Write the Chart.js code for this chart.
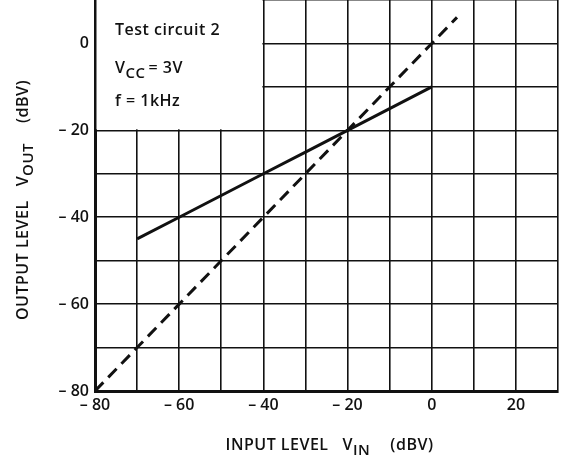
<!DOCTYPE html>
<html>
<head>
<meta charset="utf-8">
<script src="https://cdn.jsdelivr.net/npm/chart.js@4"></script>
<style>
  html, body { margin: 0; padding: 0; background: #fff; }
  #wrap { width: 561px; height: 457px; position: relative; }
</style>
</head>
<body>
<div id="wrap"><canvas id="levelChart"></canvas></div>
<script>
// output vs input level
const solidIn = [-70, -60, -50, -40, -30, -20, -10, 0];
const solidOut = [-45, -40, -35, -30, -25, -20, -15, -10];
const dashIn = [-80, -60, -40, -20, 0, 6];
const dashOut = [-80, -60, -40, -20, 0, 6];

const xTickLabels = { '-80': '– 80', '-60': '– 60', '-40': '– 40', '-20': '– 20', '0': '0', '20': '20' };
const yTickLabels = { '-80': '– 80', '-60': '– 60', '-40': '– 40', '-20': '– 20', '0': '0' };

const noteLines = [
    [{ t: 'Test circuit 2' }],
    [{ t: 'V' }, { t: 'CC', sub: true }, { t: '= 3V', gap: 3 }],
    [{ t: 'f = 1kHz' }]
];
const xTitle = [{ t: 'INPUT LEVEL' }, { t: 'V', gap: 14 }, { t: 'IN', sub: true }, { t: '(dBV)', gap: 20 }];
const yTitle = [{ t: 'OUTPUT LEVEL' }, { t: 'V', gap: 14 }, { t: 'OUT', sub: true }, { t: '(dBV)', gap: 20 }];

const FONT = '"Open Sans", "DejaVu Sans", sans-serif';
const INK = '#111';

function setFont(ctx, size, sub) {
    ctx.font = '600 ' + (sub ? size - 1 : size) + 'px ' + FONT;
    ctx.letterSpacing = '0.5px';
}

function partsWidth(ctx, parts, size) {
    let w = 0;
    parts.forEach(p => {
        setFont(ctx, size, p.sub);
        w += (p.gap || 0) + ctx.measureText(p.t).width;
    });
    return w;
}

function drawParts(ctx, parts, x, y, size) {
    parts.forEach(p => {
        setFont(ctx, size, p.sub);
        x += p.gap || 0;
        ctx.fillText(p.t, x, p.sub ? y + 5 : y);
        x += ctx.measureText(p.t).width;
    });
}

const notePlugin = {
    id: 'notePlugin',
    beforeDatasetsDraw(chart) {
        const { ctx, scales } = chart;
        const x0 = scales.x.getPixelForValue(-80);
        const x1 = scales.x.getPixelForValue(-40);
        const y0 = chart.chartArea.top;
        const y1 = scales.y.getPixelForValue(-20);
        ctx.save();
        ctx.fillStyle = '#fff';
        ctx.fillRect(x0 + 1.5, y0, x1 - x0 - 2.5, y1 - y0 - 1);
        ctx.fillStyle = INK;
        ctx.textBaseline = 'alphabetic';
        ctx.textAlign = 'left';
        const ys = [35, 73, 106];
        noteLines.forEach((line, i) => drawParts(ctx, line, x0 + 20, ys[i], 16));
        ctx.restore();
    },
    afterDraw(chart) {
        const { ctx, chartArea } = chart;
        ctx.save();
        ctx.fillStyle = INK;
        ctx.textBaseline = 'alphabetic';
        ctx.textAlign = 'left';
        const cx = (chartArea.left + chartArea.right) / 2 + 3;
        const wx = partsWidth(ctx, xTitle, 16);
        drawParts(ctx, xTitle, cx - wx / 2, 450, 16);

        ctx.translate(28, 320);
        ctx.rotate(-Math.PI / 2);
        drawParts(ctx, yTitle, 0, 0, 16);
        ctx.restore();
    }
};

const ctx = document.getElementById('levelChart').getContext('2d');
const levelChart = new Chart(ctx, {
    type: 'scatter',
    data: {
        datasets: [{
            label: 'Output',
            data: solidIn.map((v, i) => ({ x: v, y: solidOut[i] })),
            showLine: true,
            borderColor: INK,
            borderWidth: 3,
            pointRadius: 0,
            fill: false
        }, {
            label: 'Unity',
            data: dashIn.map((v, i) => ({ x: v, y: dashOut[i] })),
            showLine: true,
            borderColor: INK,
            borderWidth: 3,
            borderDash: [12, 7],
            pointRadius: 0,
            fill: false
        }]
    },
    options: {
        responsive: true,
        maintainAspectRatio: false,
        animation: false,
        layout: {
            padding: { top: 0, right: 3, left: 0, bottom: 0 }
        },
        scales: {
            x: {
                type: 'linear',
                min: -80,
                max: 30,
                afterFit: scale => {
                    scale.height = 66;
                    scale.paddingLeft = 0;
                    scale.paddingRight = 0;
                },
                grid: {
                    color: INK,
                    lineWidth: 1.6,
                    drawTicks: false
                },
                border: { color: INK, width: 3 },
                ticks: {
                    stepSize: 10,
                    padding: 5,
                    color: INK,
                    maxRotation: 0,
                    autoSkip: false,
                    font: { family: FONT, size: 16, weight: '600' },
                    callback: value => xTickLabels[String(value)] || ''
                }
            },
            y: {
                type: 'linear',
                min: -80,
                max: 10,
                afterFit: scale => {
                    scale.width = 95;
                    scale.paddingTop = 0;
                    scale.paddingBottom = 0;
                },
                grid: {
                    color: INK,
                    lineWidth: 1.6,
                    drawTicks: false
                },
                border: { color: INK, width: 3 },
                ticks: {
                    stepSize: 10,
                    padding: 6,
                    color: INK,
                    autoSkip: false,
                    font: { family: FONT, size: 16, weight: '600' },
                    callback: value => yTickLabels[String(value)] || ''
                }
            }
        },
        plugins: {
            legend: { display: false },
            tooltip: { enabled: false }
        }
    },
    plugins: [notePlugin]
});
</script>
</body>
</html>
